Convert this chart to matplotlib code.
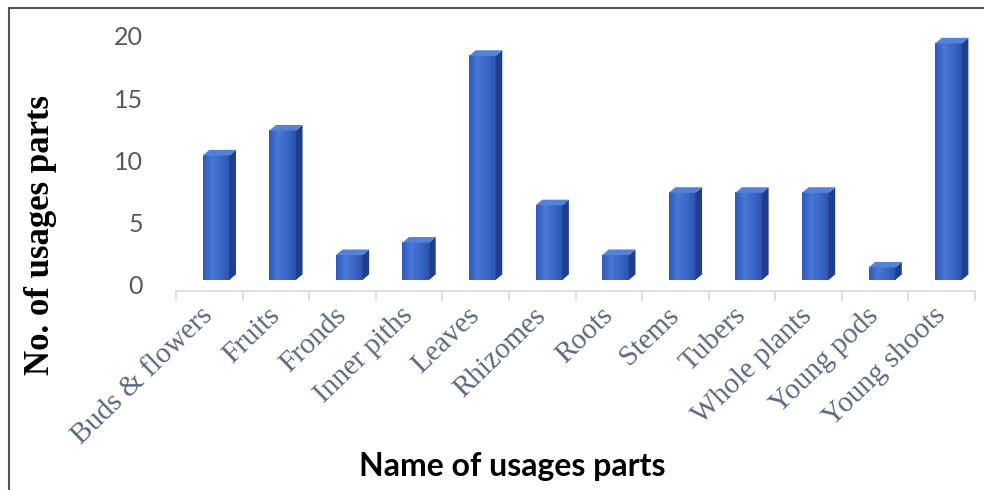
import numpy as np
import matplotlib
matplotlib.use("Agg")
import matplotlib.pyplot as plt
from matplotlib.patches import Polygon
from matplotlib.lines import Line2D
from matplotlib.transforms import ScaledTranslation
from matplotlib.colors import LinearSegmentedColormap

parts = ["Buds & flowers", "Fruits", "Fronds", "Inner piths", "Leaves", "Rhizomes",
         "Roots", "Stems", "Tubers", "Whole plants", "Young pods", "Young shoots"]
counts = [10, 12, 2, 3, 18, 6, 2, 7, 7, 7, 1, 19]
y_ticks = [0, 5, 10, 15, 20]

fig = plt.figure(figsize=(9.84, 4.90), dpi=100)
ax = fig.add_axes([0.1789, 0.4286, 0.812, 0.5336])

# fake 3D column look
bar_w = 0.40
shift = 0.10
depth_x = 0.10
depth_y = 0.45
front_cmap = LinearSegmentedColormap.from_list("front", ["#2f59b8", "#4a78d6", "#3c68c8", "#2c54b0"])
grad = np.linspace(0, 1, 64).reshape(1, -1)

x = np.arange(len(parts))
for xi, h in zip(x, counts):
    x0 = xi + shift - bar_w / 2
    x1 = xi + shift + bar_w / 2
    ax.imshow(grad, extent=[x0, x1, 0, h], aspect="auto", cmap=front_cmap,
              origin="lower", zorder=3, interpolation="bilinear")
    side = Polygon([(x1, 0), (x1 + depth_x, depth_y), (x1 + depth_x, h + depth_y), (x1, h)],
                   closed=True, facecolor="#1f3f8c", edgecolor="none", zorder=3)
    top = Polygon([(x0, h), (x1, h), (x1 + depth_x, h + depth_y), (x0 + depth_x, h + depth_y)],
                  closed=True, facecolor="#5581d6", edgecolor="none", zorder=3)
    ax.add_patch(side)
    ax.add_patch(top)

ax.set_xlim(-0.5, len(parts) - 0.5)
ax.set_ylim(0, 21)

for s in ["top", "right", "left"]:
    ax.spines[s].set_visible(False)
ax.spines["bottom"].set_position(("outward", 8))
ax.spines["bottom"].set_color("#d9d9d9")
ax.spines["bottom"].set_linewidth(1.2)

ax.set_yticks([])
ax.set_xticks(x)
ax.set_xticks(np.arange(-0.5, len(parts), 1.0), minor=True)
ax.tick_params(axis="x", which="major", length=0, pad=15)
ax.tick_params(axis="x", which="minor", length=7, color="#d9d9d9", width=1.2)
ax.set_xticklabels(parts, rotation=44, ha="right", va="center", rotation_mode="anchor",
                   fontsize=21, family="Liberation Serif", color="#5c6882")

# y tick labels sit slightly below the column floor, as on the back wall
off = ScaledTranslation(-0.33, -0.07, fig.dpi_scale_trans)
for v in y_ticks:
    ax.text(0, v, str(v), transform=ax.get_yaxis_transform() + off,
            ha="right", va="center", fontsize=18, family="Lato", color="#595959")

fig.text(0.041, 0.52, "No. of usages parts", rotation=90, ha="center", va="center",
         fontsize=25, fontweight="bold", family="Liberation Serif", color="black")
fig.text(0.521, 0.047, "Name of usages parts", ha="center", va="center",
         fontsize=23, fontweight="bold", family="Lato", color="black")

# outer frame (left and top edges visible)
fig.add_artist(Line2D([0.009, 0.009], [0.0, 0.984], transform=fig.transFigure,
                      color="#555555", linewidth=1.5))
fig.add_artist(Line2D([0.009, 1.0], [0.984, 0.984], transform=fig.transFigure,
                      color="#555555", linewidth=1.5))

fig.savefig("out.png", dpi=100)
